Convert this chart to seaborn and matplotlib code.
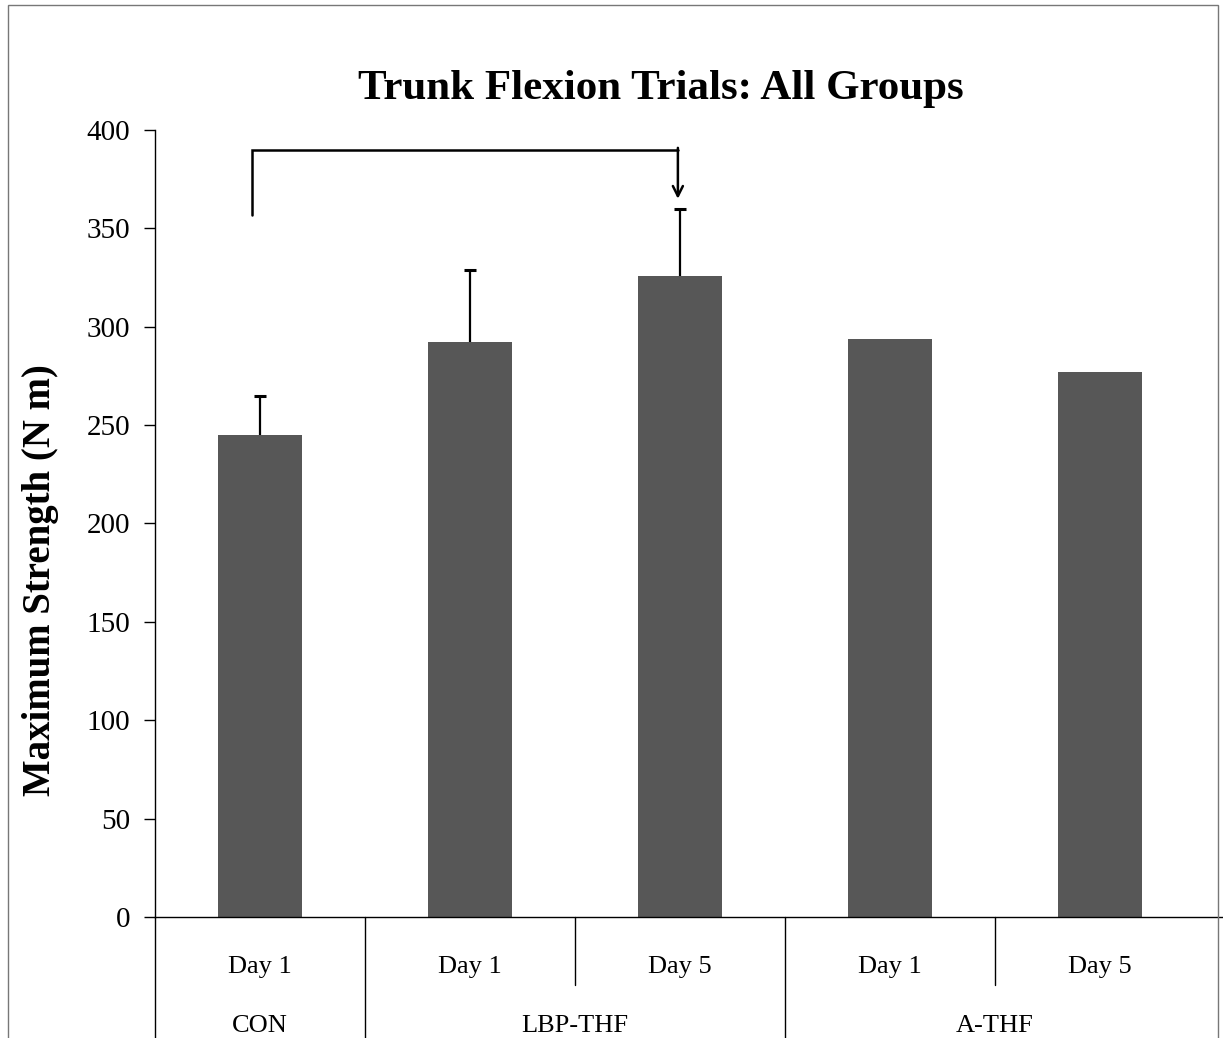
#!/usr/bin/env python3
"""Trunk flexion trials bar chart with grouped category table below the axis."""

import matplotlib
matplotlib.use("Agg")
import matplotlib.pyplot as plt
import matplotlib.patches as patches
import pandas as pd
import seaborn as sns

# data
groups = ["CON", "LBP-THF", "LBP-THF", "A-THF", "A-THF"]
days = ["Day 1", "Day 1", "Day 5", "Day 1", "Day 5"]
strength = [245, 292, 326, 294, 277]
err_up = [20, 37, 34, 0, 0]

group_names = ["CON", "LBP-THF", "A-THF"]
group_centers = [0, 1.5, 3.5]

df = pd.DataFrame({"cond": [f"{g} {d}" for g, d in zip(groups, days)],
                   "strength": strength})

sns.set_style("white")
plt.rcParams["font.family"] = ["Liberation Serif", "DejaVu Serif"]
plt.rcParams["text.color"] = "black"
plt.rcParams["axes.labelcolor"] = "black"

fig = plt.figure(figsize=(12.23, 10.38), dpi=100)
ax = fig.add_axes([0.1267, 0.1166, 0.8586, 0.7582])

sns.barplot(data=df, x="cond", y="strength", color="#575757", saturation=1,
            width=0.4, errorbar=None, ax=ax, edgecolor="none")

# upper error bars only (stem + top cap, no cap at the bar top)
xs = list(range(len(strength)))
for x, v, e in zip(xs, strength, err_up):
    if e > 0:
        ax.vlines(x, v, v + e, color="black", lw=1.6)
        ax.hlines(v + e, x - 0.03, x + 0.03, color="black", lw=2.2)

ax.set_ylim(0, 400)
ax.set_xlim(-0.5, 4.5)
ax.set_yticks(range(0, 401, 50))
ax.tick_params(axis="y", labelsize=21, length=8, width=1, direction="out",
               pad=10, left=True, colors="black")
ax.tick_params(axis="x", bottom=False, labelbottom=False)
ax.set_xlabel("")
ax.set_ylabel("Maximum Strength (N m)", fontsize=28, fontweight="bold",
              color="black")
ax.yaxis.set_label_coords(-0.091, 0.428)
for side in ["top", "right"]:
    ax.spines[side].set_visible(False)
for side in ["left", "bottom"]:
    ax.spines[side].set_color("black")
    ax.spines[side].set_linewidth(1)
ax.spines["bottom"].set_bounds(-0.5, 4.62)

ax.set_title("Trunk Flexion Trials: All Groups", fontsize=31,
             fontweight="bold", x=0.482, pad=22, color="black")

# significance bracket
ax.plot([-0.04, -0.04, 1.99], [357, 390, 390], color="black", lw=1.8,
        solid_joinstyle="miter")
ax.annotate("", xy=(1.99, 365), xytext=(1.99, 390.9),
            arrowprops=dict(arrowstyle="->", color="black", lw=1.8,
                            mutation_scale=18, shrinkA=0, shrinkB=0))

# category table under the axis
trans = ax.get_xaxis_transform()
for x, d in zip(xs, days):
    ax.text(x, -0.063, d, transform=trans, ha="center", va="center",
            fontsize=19, color="black")
for x, g in zip(group_centers, group_names):
    ax.text(x, -0.139, g, transform=trans, ha="center", va="center",
            fontsize=19, color="black")
for x in [-0.5, 0.5, 2.5]:
    ax.plot([x, x], [0, -0.16], transform=trans, color="black", lw=1,
            clip_on=False)
for x in [1.5, 3.5]:
    ax.plot([x, x], [0, -0.087], transform=trans, color="black", lw=1,
            clip_on=False)

# thin frame around the whole chart
fig.patches.append(patches.Rectangle((8 / 1223, -0.05), 1210 / 1223,
                                     1.0 - 5 / 1038 + 0.05,
                                     transform=fig.transFigure, fill=False,
                                     edgecolor="#777777", lw=1))

fig.savefig("out.png", dpi=100)
plt.close(fig)
